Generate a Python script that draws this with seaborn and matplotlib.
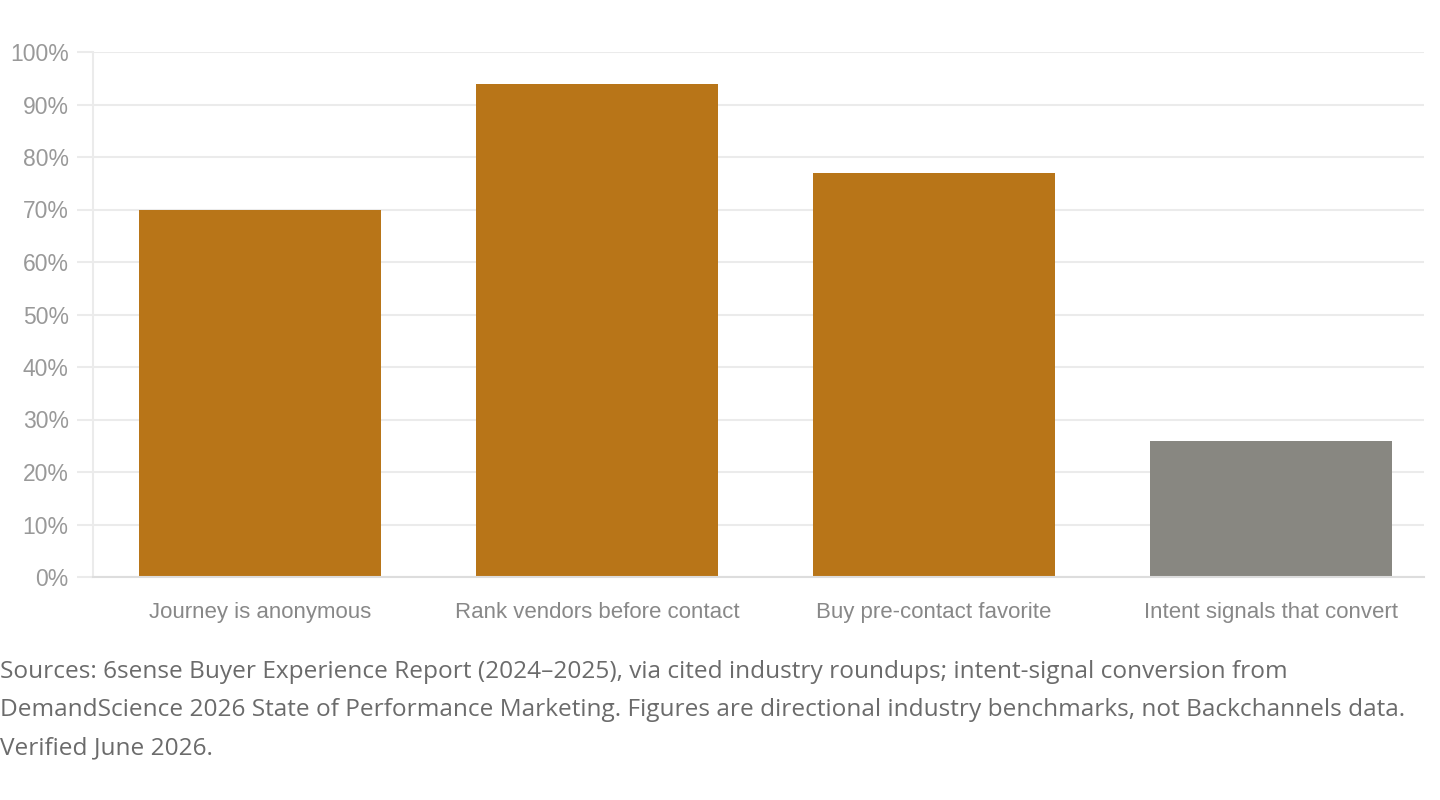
import matplotlib
matplotlib.use("Agg")
import matplotlib.pyplot as plt
import seaborn as sns
import pandas as pd
from matplotlib.ticker import FuncFormatter, MultipleLocator

categories = ["Journey is anonymous", "Rank vendors before contact",
              "Buy pre-contact favorite", "Intent signals that convert"]
values = [70, 94, 77, 26]
bar_colors = ["#B87518", "#B87518", "#B87518", "#888781"]
caption_lines = [
    "Sources: 6sense Buyer Experience Report (2024\u20132025), via cited industry roundups; intent-signal conversion from",
    "DemandScience 2026 State of Performance Marketing. Figures are directional industry benchmarks, not Backchannels data.",
    "Verified June 2026.",
]

sns.set_theme(style="white")
plt.rcParams['font.family'] = ['Liberation Sans', 'DejaVu Sans']

df = pd.DataFrame({"category": categories, "value": values})

W, H = 1440, 800
fig = plt.figure(figsize=(W / 100, H / 100), dpi=100)
ax = fig.add_axes([93 / W, (H - 577) / H, (1424 - 93) / W, (577 - 52) / H])

sns.barplot(data=df, x="category", y="value", hue="category",
            palette=bar_colors, legend=False, width=242 / 337, ax=ax,
            saturation=1, edgecolor="none")

ax.set_xlim((93 - 260) / 337, (1424 - 260) / 337)
ax.set_ylim(0, 100)
ax.yaxis.set_major_locator(MultipleLocator(10))
ax.yaxis.set_major_formatter(FuncFormatter(lambda v, p: f"{int(v)}%"))
ax.grid(axis="y", color="#ebebeb", linewidth=1.5)
ax.set_axisbelow(True)
ax.set_xlabel("")
ax.set_ylabel("")

for s in ["top", "right"]:
    ax.spines[s].set_visible(False)
ax.spines["left"].set_color("#ebebeb")
ax.spines["left"].set_linewidth(1.5)
ax.spines["bottom"].set_color("#dddddd")
ax.spines["bottom"].set_linewidth(1.5)

ax.tick_params(axis="y", length=11.5, width=1.5, color="#ebebeb", pad=6,
               labelsize=16.5, labelcolor="#999999", left=True)
ax.tick_params(axis="x", length=0, pad=18, labelsize=16, labelcolor="#888888")

for i, line in enumerate(caption_lines):
    fig.text(0.0, 1 - (672 + 38 * i) / H, line, ha="left", va="center",
             fontsize=17.6, color="#6b6b6b", family=["Open Sans", "DejaVu Sans"])

fig.savefig("out.png", dpi=100)
